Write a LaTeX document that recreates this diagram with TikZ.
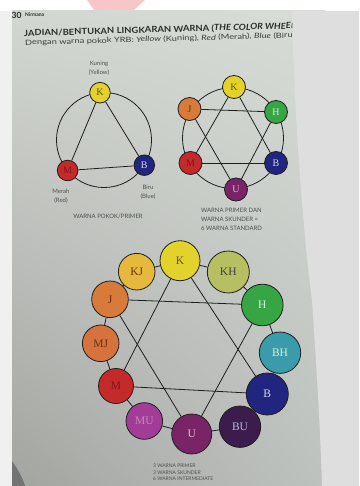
\documentclass[tikz,border=0pt]{standalone}
\usepackage{fontspec}
\setmainfont{Liberation Serif}
\newfontfamily\lab{Lato}
\usepackage{graphicx}
\usetikzlibrary{shadings}
\pgfdeclarelayer{bg}\pgfdeclarelayer{lines}\pgfdeclarelayer{front}
\pgfsetlayers{bg,lines,main,front}
\definecolor{ink}{HTML}{1E1E1E}
\definecolor{labc}{HTML}{4E524E}
\definecolor{titlec}{HTML}{2A2C2A}
\definecolor{subc}{HTML}{3C3E3C}
\definecolor{pUL}{HTML}{D3D7D2}
\definecolor{pUR}{HTML}{D8DCD7}
\definecolor{pLL}{HTML}{A2A4A0}
\definecolor{pLR}{HTML}{BEC2BE}
\definecolor{rpage}{HTML}{DEDEDE}
\definecolor{pink}{HTML}{F7C6C9}
\definecolor{cK}{HTML}{E4D22C}
\definecolor{cKJ}{HTML}{E6B83C}
\definecolor{cKH}{HTML}{B6C062}
\definecolor{cJ}{HTML}{D87A3A}
\definecolor{cH}{HTML}{36A644}
\definecolor{cMJ}{HTML}{D5723E}
\definecolor{cBH}{HTML}{3A9CAB}
\definecolor{cM}{HTML}{C42A2A}
\definecolor{cB}{HTML}{22257F}
\definecolor{cMU}{HTML}{A23D97}
\definecolor{cU}{HTML}{7A2468}
\definecolor{cBU}{HTML}{3B1C4C}
\definecolor{tK}{HTML}{6A4E12}
\definecolor{tO}{HTML}{6A3212}
\definecolor{tM}{HTML}{7E1616}
\definecolor{tL}{HTML}{D4D4F0}
\definecolor{tG}{HTML}{D8F0D8}
\definecolor{tP}{HTML}{E6B4DA}
\begin{document}
\begin{tikzpicture}[x=1pt,y=-1pt,
  node1/.style={circle, draw=ink, line width=0.8pt, inner sep=0pt, minimum size=20.6pt, font=\fontsize{10}{10}\selectfont},
  node2/.style={circle, draw=ink, line width=0.8pt, inner sep=0pt, minimum size=23pt, font=\fontsize{10}{10}\selectfont},
  node3/.style={circle, draw=ink, line width=0.8pt, inner sep=0pt, font=\fontsize{11.5}{11.5}\selectfont},
  ring/.style={draw=ink, line width=0.8pt},
  lbl/.style={align=center, text=labc, inner sep=0pt, font=\lab\fontsize{6}{8.5}\selectfont},
  capt/.style={align=left, text=labc, inner sep=0pt, font=\lab\fontsize{6}{9}\selectfont},
  captsmall/.style={align=left, text=labc, inner sep=0pt, font=\lab\fontsize{5}{6.7}\selectfont}]
\useasboundingbox (0,0) rectangle (359,486);
\begin{pgfonlayer}{bg}
  \fill[white] (0,0) rectangle (359,486);
  \fill[pink] (87,0) -- (145,0) -- (110,32) -- cycle;
  \fill[black!6] (0,11) rectangle (12,486);
  \begin{scope}[y=1pt]
    \shade[upper left=pUL, upper right=pUR, lower left=pLL, lower right=pLR] (12,-486) rectangle (325,-11);
  \end{scope}
  \fill[black!55] (12,461) .. controls (17,468) and (22,476) .. (25,486) -- (12,486) -- cycle;
\end{pgfonlayer}
% header texts
\node[anchor=base west, inner sep=0pt, text=titlec] (pg) at (11.5,18.5) {\lab\bfseries\fontsize{8.5}{8.5}\selectfont 30};
\node[anchor=base west, inner sep=0pt, text=titlec] (nir) at (25,17) {\lab\bfseries\fontsize{5}{5}\selectfont Nirmana};
\node[anchor=base west, inner sep=0pt, rotate=1.6, text=titlec] (title) at (24,36.3)
  {\resizebox{274pt}{6.6pt}{\lab\bfseries JADIAN/BENTUKAN LINGKARAN WARNA (\textit{THE COLOR WHEEL})}};
\node[anchor=base west, inner sep=0pt, rotate=1.6, text=subc] (sub) at (25,45.2)
  {\resizebox{270pt}{5.6pt}{\lab Dengan warna pokok YRB: \textit{Yellow} (Kuning), \textit{Red} (Merah), \textit{Blue} (Biru)}};
% ---------- diagram 1
\node[node1, fill=cK, text=tK] (K1) at (100,92.7) {K};
\node[node1, fill=cM, text=tM] (M1) at (67.6,170.5) {M};
\node[node1, fill=cB, text=tL] (B1) at (144.3,165.2) {B};
\node[lbl] (kun) at (99,68.5) {Kuning\\(Yellow)};
\node[lbl] (mer) at (61,196) {Merah\\(Red)};
\node[lbl] (bir) at (148,192.5) {Biru\\(Blue)};
\node[capt] (c1) at (108,216) {WARNA POKOK/PRIMER};
\begin{pgfonlayer}{lines}
  \draw[ring] (104,140) circle (47.5);
  \draw[ring] (K1) -- (M1);
  \draw[ring] (M1) -- (B1);
  \draw[ring] (B1) -- (K1);
\end{pgfonlayer}
% ---------- diagram 2
\node[node2, fill=cK, text=tK] (K2) at (234,87) {K};
\node[node2, fill=cJ, text=tO] (J2) at (189.5,109) {J};
\node[node2, fill=cH, text=tG] (H2) at (276,112) {H};
\node[node2, fill=cM, text=tM] (M2) at (190.5,163) {M};
\node[node2, fill=cB, text=tL] (B2) at (276,163) {B};
\node[node2, fill=cU, text=tP] (U2) at (236,189.5) {U};
\node[capt, anchor=west] (c2) at (201,219) {WARNA PRIMER DAN\\WARNA SKUNDER =\\6 WARNA STANDARD};
\begin{pgfonlayer}{lines}
  \draw[ring] (233,138) circle (50.5);
  \draw[ring] (K2) -- (M2);
  \draw[ring] (M2) -- (B2);
  \draw[ring] (B2) -- (K2);
  \draw[ring] (J2) -- (H2);
  \draw[ring] (H2) -- (U2);
  \draw[ring] (U2) -- (J2);
\end{pgfonlayer}
% ---------- diagram 3
\node[node3, minimum size=40pt, fill=cK, text=tK] (K3) at (180,260.7) {K};
\node[node3, minimum size=36.6pt, fill=cKJ, text=tO] (KJ3) at (136.7,271.7) {KJ};
\node[node3, minimum size=42pt, fill=cKH, text=black!75] (KH3) at (228.3,272) {KH};
\node[node3, minimum size=36.6pt, fill=cJ, text=tO] (J3) at (110,299.3) {J};
\node[node3, minimum size=41.6pt, fill=cH, text=tG] (H3) at (262.3,305) {H};
\node[node3, minimum size=36.6pt, fill=cMJ, text=tO] (MJ3) at (100.7,343.3) {MJ};
\node[node3, minimum size=41.4pt, fill=cBH, text=tG] (BH3) at (280,352.7) {BH};
\node[node3, minimum size=35pt, fill=cM, text=tM] (M3) at (116,386) {M};
\node[node3, minimum size=42pt, fill=cB, text=tL] (B3) at (267.3,394) {B};
\node[node3, minimum size=36.6pt, fill=cMU, text=tP!60!cMU] (MU3) at (144.3,421) {MU};
\node[node3, minimum size=40pt, fill=cU, text=tP] (U3) at (191.7,434) {U};
\node[node3, minimum size=41.4pt, fill=cBU, text=tL!85!cBU] (BU3) at (240,426.7) {BU};
\node[captsmall, anchor=north west] (c3) at (153,463.5) {3 WARNA PRIMER\\3 WARNA SKUNDER\\6 WARNA INTERMEDIATE};
\begin{pgfonlayer}{lines}
  \draw[ring] (K3) -- (KH3);
  \draw[ring] (KH3) -- (H3);
  \draw[ring] (H3) -- (BH3);
  \draw[ring] (BH3) -- (B3);
  \draw[ring] (B3) -- (BU3);
  \draw[ring] (BU3) -- (U3);
  \draw[ring] (U3) -- (MU3);
  \draw[ring] (MU3) -- (M3);
  \draw[ring] (M3) -- (MJ3);
  \draw[ring] (MJ3) -- (J3);
  \draw[ring] (J3) -- (KJ3);
  \draw[ring] (KJ3) -- (K3);
  \draw[ring] (K3) -- (M3);
  \draw[ring] (M3) -- (B3);
  \draw[ring] (B3) -- (K3);
  \draw[ring] (J3) -- (H3);
  \draw[ring] (H3) -- (U3);
  \draw[ring] (U3) -- (J3);
\end{pgfonlayer}
% right page
\begin{pgfonlayer}{front}
  \fill[rpage] (292,11) .. controls (294,120) and (305,250) .. (312,300) .. controls (316,360) and (320,420) .. (322,486) -- (359,486) -- (359,11) -- cycle;
\end{pgfonlayer}
\end{tikzpicture}
\end{document}
